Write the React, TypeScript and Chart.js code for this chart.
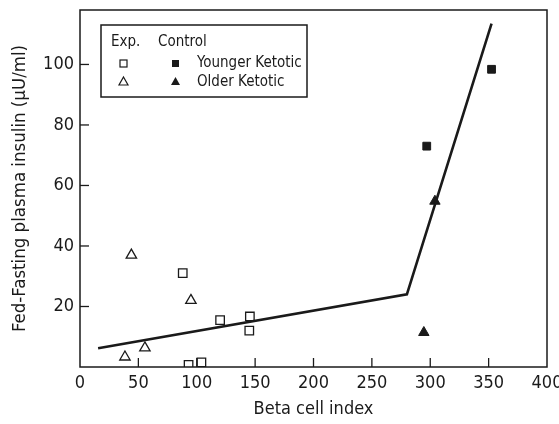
import React, { useEffect, useRef } from 'react';
import { Chart, registerables } from 'chart.js';
Chart.register(...registerables);

const expYoungerX = [88, 120, 145.5, 145, 93, 104];
const expYoungerY = [31, 15.5, 16.7, 12, 0.7, 1.5];
const expOlderX = [44, 95, 55.6, 38.5];
const expOlderY = [37, 22, 6.3, 3.3];
const ctrlYoungerX = [297, 352.5];
const ctrlYoungerY = [73, 98.4];
const ctrlOlderX = [304, 294.5];
const ctrlOlderY = [54.8, 11.4];
const fitX = [15.5, 280, 352.5];
const fitY = [6.2, 24, 113.5];
const xTickValues = [0, 50, 100, 150, 200, 250, 300, 350, 400];
const yTickValues = [0, 20, 40, 60, 80, 100];
const xInnerTicks = [50, 100, 150, 200, 250, 300, 350];
const yInnerTicks = [20, 40, 60, 80, 100];
const legendHeader = ['Exp.', 'Control'];
const legendRows = ['Younger Ketotic', 'Older Ketotic'];

const FONT = "'DejaVu Sans Condensed', 'Liberation Sans Narrow', 'DejaVu Sans', sans-serif";
const INK = '#1a1a1a';

const zip = (xs: number[], ys: number[]) => xs.map((x, i) => ({ x, y: ys[i] }));

const decorPlugin = {
  id: 'decor',
  afterDraw(chart: any) {
    const { ctx, chartArea } = chart;
    const { left, right, top, bottom } = chartArea;
    const xs = chart.scales.x;
    const ys = chart.scales.y;
    ctx.save();
    ctx.strokeStyle = INK;
    ctx.lineWidth = 1.5;
    ctx.strokeRect(left, top, right - left, bottom - top);
    ctx.lineWidth = 1.3;
    xInnerTicks.forEach((v) => {
      const px = xs.getPixelForValue(v);
      ctx.beginPath();
      ctx.moveTo(px, bottom);
      ctx.lineTo(px, bottom - 9);
      ctx.stroke();
    });
    yInnerTicks.forEach((v) => {
      const py = ys.getPixelForValue(v);
      ctx.beginPath();
      ctx.moveTo(left, py);
      ctx.lineTo(left + 9, py);
      ctx.stroke();
    });
    // legend box
    const bx = 101, by = 25, bw = 206, bh = 72;
    ctx.fillStyle = '#fff';
    ctx.fillRect(bx, by, bw, bh);
    ctx.lineWidth = 1.5;
    ctx.strokeRect(bx, by, bw, bh);
    ctx.fillStyle = INK;
    ctx.font = `15px ${FONT}`;
    ctx.textBaseline = 'middle';
    ctx.textAlign = 'left';
    ctx.fillText(legendHeader[0], 111, 42);
    ctx.fillText(legendHeader[1], 158, 42);
    ctx.fillText(legendRows[0], 197, 63);
    ctx.fillText(legendRows[1], 197, 82);
    ctx.lineWidth = 1.2;
    ctx.strokeRect(120, 60, 7, 7);
    ctx.fillRect(172, 60, 7, 7);
    ctx.beginPath();
    ctx.moveTo(123.5, 77);
    ctx.lineTo(128, 85);
    ctx.lineTo(119, 85);
    ctx.closePath();
    ctx.stroke();
    ctx.beginPath();
    ctx.moveTo(175.5, 77);
    ctx.lineTo(180, 85);
    ctx.lineTo(171, 85);
    ctx.closePath();
    ctx.fill();
    ctx.restore();
  },
};

export default function App() {
  const ref = useRef<HTMLCanvasElement>(null);
  useEffect(() => {
    if (!ref.current) return;
    const chart = new Chart(ref.current, {
      type: 'scatter',
      data: {
        datasets: [
          {
            type: 'line',
            label: 'Fit',
            data: zip(fitX, fitY),
            borderColor: INK,
            borderWidth: 2.6,
            pointRadius: 0,
            fill: false,
            tension: 0,
          } as any,
          {
            label: 'Exp. Younger Ketotic',
            data: zip(expYoungerX, expYoungerY),
            pointStyle: 'rect',
            pointRadius: 6,
            borderColor: INK,
            borderWidth: 1.3,
            backgroundColor: '#fff',
          },
          {
            label: 'Exp. Older Ketotic',
            data: zip(expOlderX, expOlderY),
            pointStyle: 'triangle',
            pointRadius: 6,
            borderColor: INK,
            borderWidth: 1.3,
            backgroundColor: '#fff',
          },
          {
            label: 'Control Younger Ketotic',
            data: zip(ctrlYoungerX, ctrlYoungerY),
            pointStyle: 'rect',
            pointRadius: 5.5,
            borderColor: INK,
            borderWidth: 1,
            backgroundColor: INK,
          },
          {
            label: 'Control Older Ketotic',
            data: zip(ctrlOlderX, ctrlOlderY),
            pointStyle: 'triangle',
            pointRadius: 6,
            borderColor: INK,
            borderWidth: 1,
            backgroundColor: INK,
          },
        ],
      },
      options: {
        responsive: false,
        animation: false,
        layout: { padding: { top: 10, right: 12, left: 0, bottom: 0 } },
        plugins: { legend: { display: false }, tooltip: { enabled: false } },
        scales: {
          x: {
            type: 'linear',
            min: 0,
            max: 400,
            afterBuildTicks: (s: any) => { s.ticks = xTickValues.map((v) => ({ value: v })); },
            afterFit: (s: any) => {
              s.height = 57;
              s.paddingLeft = 0;
              s.paddingRight = 0;
              s.paddingTop = 0;
              s.paddingBottom = 0;
            },
            grid: { display: false, drawTicks: false },
            border: { display: false },
            ticks: { color: INK, font: { family: FONT, size: 18 }, padding: 6, maxRotation: 0 },
            title: {
              display: true,
              text: 'Beta cell index',
              color: INK,
              font: { family: FONT, size: 18 },
              padding: { top: 0, bottom: 4 },
            },
          },
          y: {
            type: 'linear',
            min: 0,
            max: 118,
            afterBuildTicks: (s: any) => { s.ticks = yTickValues.map((v) => ({ value: v })); },
            afterFit: (s: any) => {
              s.width = 80;
              s.paddingLeft = 0;
              s.paddingRight = 0;
              s.paddingTop = 0;
              s.paddingBottom = 0;
            },
            grid: { display: false, drawTicks: false },
            border: { display: false },
            ticks: {
              color: INK,
              font: { family: FONT, size: 18 },
              padding: 6,
              callback: (v: any) => (v === 0 ? '' : String(v)),
            },
            title: {
              display: true,
              text: 'Fed-Fasting plasma insulin (μU/ml)',
              color: INK,
              font: { family: FONT, size: 18.5 },
              padding: { top: 9, bottom: 0 },
            },
          },
        },
      },
      plugins: [decorPlugin],
    });
    return () => chart.destroy();
  }, []);
  return (
    <div style={{ position: 'fixed', left: 0, top: 0, width: 559, height: 424, background: '#fff' }}>
      <canvas ref={ref} width={559} height={424} />
    </div>
  );
}
